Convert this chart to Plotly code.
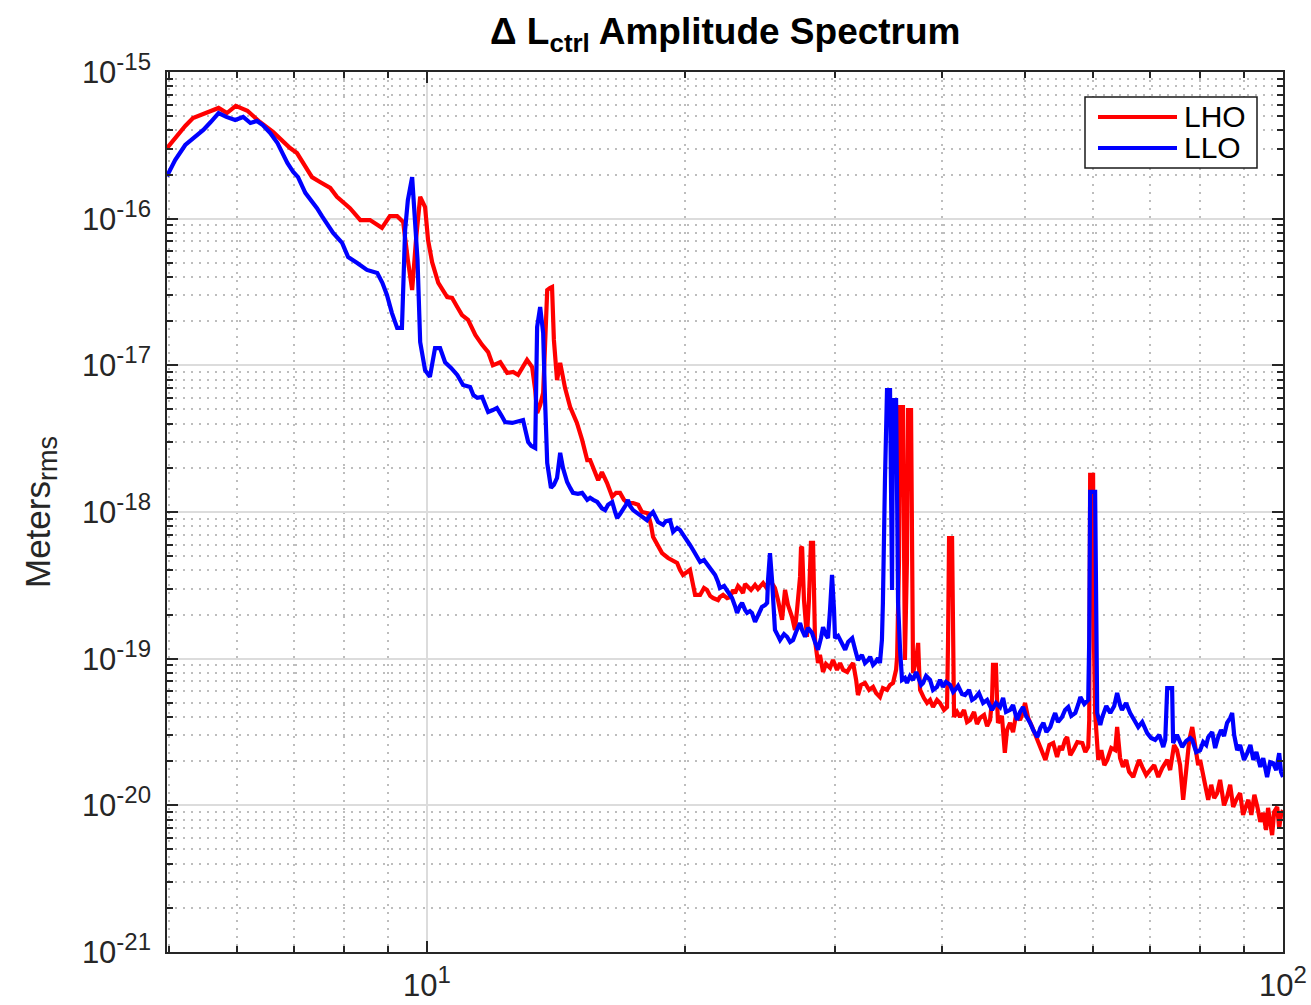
import numpy as np
import plotly.graph_objects as go

# ---------------- data ----------------
lho_freq = [4.97, 5.08, 5.22, 5.33, 5.50, 5.71, 5.84, 5.98, 6.17, 6.38, 6.61, 6.79, 6.92, 7.05, 7.21, 7.34, 7.50, 7.71, 7.85,
            8.13, 8.36, 8.58, 8.86, 9.05, 9.23, 9.38, 9.50, 9.61, 9.71, 9.82, 9.95, 10.03, 10.14, 10.31, 10.56, 10.70, 10.85,
            10.99, 11.17, 11.39, 11.60, 11.79, 11.94, 12.18, 12.41, 12.61, 12.78, 12.92, 13.09, 13.27, 13.38, 13.45, 13.56,
            13.67, 13.74, 13.82, 13.92, 14.00, 14.07, 14.19, 14.31, 14.50, 14.70, 14.97, 15.18, 15.39, 15.51, 15.68, 15.85,
            16.01, 16.23, 16.46, 16.63, 16.81, 16.99, 17.17, 17.41, 17.65, 17.83, 18.12, 18.27, 18.37, 18.57, 18.82, 19.13,
            19.34, 19.60, 19.75, 19.91, 20.13, 20.29, 20.46, 20.57, 20.85, 21.07, 21.24, 21.42, 21.59, 21.88, 21.99, 22.18,
            22.42, 22.60, 22.78, 22.90, 23.09, 23.21, 23.40, 23.53, 23.72, 23.91, 24.17, 24.36, 24.70, 24.89, 25.16, 25.37,
            25.50, 25.71, 25.99, 26.20, 26.41, 26.70, 26.91, 27.06, 27.28, 27.35, 27.43, 27.57, 27.79, 27.94, 28.09, 28.25,
            28.40, 28.63, 28.78, 29.02, 29.25, 29.57, 29.81, 30.13, 30.38, 30.63, 30.97, 31.22, 31.47, 31.72, 31.88, 32.14,
            32.49, 32.85, 33.20, 33.47, 33.82, 34.09, 34.47, 34.75, 35.03, 35.32, 35.42, 35.60, 35.70, 35.98, 36.08, 36.17,
            36.37, 36.47, 36.77, 36.87, 36.97, 37.28, 37.48, 37.58, 37.68, 38.07, 38.39, 38.70, 39.01, 39.43, 39.75, 40.18,
            40.51, 40.62, 40.73, 41.06, 41.18, 41.28, 41.62, 41.95, 42.40, 42.75, 43.10, 43.56, 43.91, 44.27, 44.75, 45.12,
            45.48, 45.72, 45.84, 46.20, 46.34, 46.46, 46.95, 47.32, 47.60, 47.99, 48.38, 48.77, 49.30, 49.70, 49.96, 50.38,
            50.94, 51.37, 51.79, 52.21, 52.78, 53.34, 53.90, 54.46, 54.89, 55.19, 55.65, 55.96, 56.43, 56.89, 57.51, 58.29,
            58.76, 59.22, 59.38, 59.53, 60.00, 60.16, 60.33, 60.84, 61.34, 61.84, 62.34, 63.01, 63.68, 64.01, 64.52, 65.02,
            65.56, 66.11, 66.84, 67.39, 67.93, 68.48, 69.21, 69.95, 70.72, 71.50, 72.27, 73.24, 73.82, 74.60, 75.19, 75.82,
            76.45, 77.08, 77.71, 78.34, 78.97, 79.60, 80.02, 80.68, 81.34, 81.78, 82.44, 83.10, 83.77, 84.43, 85.33, 86.04,
            86.75, 87.46, 88.16, 89.11, 89.82, 90.60, 91.10, 91.84, 92.59, 93.34, 94.08, 94.82, 95.54, 96.07, 96.60, 97.12,
            97.65, 98.45, 98.98, 99.47, 100.0]
lho_amp = [3.03e-16, 3.55e-16, 4.29e-16, 4.86e-16, 5.25e-16, 5.69e-16, 5.25e-16, 5.87e-16, 5.44e-16, 4.56e-16, 3.90e-16,
           3.33e-16, 3.03e-16, 2.80e-16, 2.25e-16, 1.92e-16, 1.78e-16, 1.62e-16, 1.41e-16, 1.18e-16, 9.78e-17, 9.78e-17,
           8.66e-17, 1.04e-16, 1.04e-16, 9.50e-17, 5.23e-17, 3.26e-17, 7.17e-17, 1.41e-16, 1.20e-16, 7.17e-17, 5.05e-17,
           3.65e-17, 2.92e-17, 2.88e-17, 2.50e-17, 2.20e-17, 2.04e-17, 1.61e-17, 1.38e-17, 1.23e-17, 1.00e-17, 1.05e-17,
           8.88e-18, 9.02e-18, 8.60e-18, 9.60e-18, 1.09e-17, 9.75e-18, 6.79e-18, 4.74e-18, 5.36e-18, 6.49e-18, 1.74e-17,
           3.26e-17, 3.37e-17, 3.42e-17, 1.49e-17, 7.94e-18, 1.04e-17, 7.00e-18, 5.20e-18, 4.05e-18, 3.10e-18, 2.26e-18,
           2.26e-18, 1.93e-18, 1.65e-18, 1.87e-18, 1.58e-18, 1.27e-18, 1.35e-18, 1.35e-18, 1.21e-18, 1.15e-18, 1.15e-18,
           1.12e-18, 1.00e-18, 9.80e-19, 8.17e-19, 6.77e-19, 5.96e-19, 5.25e-19, 4.86e-19, 4.71e-19, 4.49e-19, 4.03e-19,
           3.72e-19, 3.90e-19, 4.03e-19, 3.18e-19, 2.72e-19, 2.72e-19, 3.03e-19, 2.94e-19, 2.68e-19, 2.59e-19, 2.51e-19,
           2.63e-19, 2.72e-19, 2.59e-19, 2.63e-19, 2.94e-19, 2.80e-19, 3.13e-19, 3.03e-19, 2.80e-19, 3.23e-19, 3.08e-19,
           2.94e-19, 3.18e-19, 2.99e-19, 3.28e-19, 3.08e-19, 3.44e-19, 3.13e-19, 3.03e-19, 2.51e-19, 1.84e-19, 2.94e-19,
           2.32e-19, 1.92e-19, 1.57e-19, 2.15e-19, 3.61e-19, 5.69e-19, 5.78e-19, 2.51e-19, 1.41e-19, 2.51e-19, 6.15e-19,
           6.15e-19, 1.34e-19, 9.34e-20, 1.06e-19, 8.12e-20, 9.19e-20, 8.66e-20, 9.78e-20, 8.39e-20, 9.34e-20, 8.39e-20,
           8.12e-20, 8.78e-20, 9.34e-20, 7.17e-20, 5.65e-20, 6.62e-20, 6.83e-20, 6.12e-20, 6.42e-20, 5.83e-20, 5.47e-20,
           6.30e-20, 6.12e-20, 6.62e-20, 6.83e-20, 8.39e-20, 1.03e-19, 4.71e-19, 5.20e-18, 5.20e-18, 4.71e-19, 9.78e-20,
           4.71e-19, 4.96e-18, 4.96e-18, 5.51e-19, 7.99e-20, 9.78e-20, 1.28e-19, 8.39e-20, 6.12e-20, 5.39e-20, 4.99e-20,
           5.23e-20, 4.68e-20, 5.23e-20, 4.99e-20, 4.47e-20, 4.68e-20, 1.34e-19, 6.64e-19, 6.64e-19, 1.34e-19, 4.00e-20,
           4.33e-20, 4.00e-20, 4.47e-20, 3.70e-20, 3.82e-20, 4.33e-20, 3.59e-20, 3.94e-20, 4.13e-20, 3.47e-20, 3.82e-20,
           5.23e-20, 9.06e-20, 9.06e-20, 5.23e-20, 3.65e-20, 4.07e-20, 2.28e-20, 3.26e-20, 3.65e-20, 3.16e-20, 4.13e-20,
           3.82e-20, 4.33e-20, 4.99e-20, 3.94e-20, 3.42e-20, 3.02e-20, 2.66e-20, 2.31e-20, 2.04e-20, 2.58e-20, 2.66e-20,
           2.14e-20, 2.54e-20, 2.38e-20, 2.79e-20, 2.92e-20, 2.20e-20, 2.38e-20, 2.70e-20, 2.66e-20, 2.31e-20, 2.50e-20,
           3.82e-20, 1.79e-18, 1.79e-18, 1.15e-19, 4.26e-20, 2.04e-20, 2.38e-20, 1.88e-20, 2.04e-20, 2.46e-20, 2.38e-20,
           3.42e-20, 2.10e-20, 1.83e-20, 2.04e-20, 1.69e-20, 1.56e-20, 1.80e-20, 2.04e-20, 1.83e-20, 1.61e-20, 1.74e-20,
           1.88e-20, 1.56e-20, 1.80e-20, 2.04e-20, 1.74e-20, 2.58e-20, 2.38e-20, 1.88e-20, 1.09e-20, 1.74e-20, 2.79e-20,
           3.42e-20, 2.58e-20, 1.88e-20, 2.04e-20, 1.54e-20, 1.27e-20, 1.09e-20, 1.38e-20, 1.12e-20, 1.21e-20, 1.49e-20,
           1.00e-20, 1.14e-20, 1.38e-20, 9.75e-21, 1.09e-20, 1.21e-20, 8.60e-21, 1.00e-20, 1.09e-20, 8.60e-21, 1.18e-20,
           9.75e-21, 7.71e-21, 8.88e-21, 6.79e-21, 9.60e-21, 7.58e-21, 6.27e-21, 9.02e-21, 9.75e-21, 7.00e-21, 8.60e-21,
           9.27e-21]

llo_freq = [4.97, 5.08, 5.22, 5.36, 5.48, 5.59, 5.71, 5.83, 5.97, 6.10, 6.22, 6.33, 6.43, 6.56, 6.69, 6.78, 6.87, 6.98, 7.07,
            7.21, 7.32, 7.44, 7.54, 7.65, 7.77, 7.96, 8.09, 8.29, 8.51, 8.75, 8.87, 8.98, 9.10, 9.23, 9.35, 9.43, 9.50, 9.61,
            9.69, 9.75, 9.82, 9.95, 10.08, 10.22, 10.36, 10.50, 10.67, 10.85, 11.02, 11.23, 11.33, 11.45, 11.60, 11.70, 11.79,
            11.94, 12.07, 12.21, 12.34, 12.58, 12.75, 12.95, 13.13, 13.24, 13.38, 13.42, 13.45, 13.56, 13.67, 13.74, 13.82,
            13.96, 14.07, 14.19, 14.31, 14.42, 14.58, 14.70, 14.81, 15.01, 15.18, 15.39, 15.51, 15.64, 15.81, 16.01, 16.15,
            16.28, 16.46, 16.59, 16.68, 16.81, 16.95, 17.08, 17.17, 17.27, 17.41, 17.60, 17.83, 17.98, 18.07, 18.22, 18.37,
            18.52, 18.62, 18.87, 19.02, 19.23, 19.39, 19.60, 19.75, 19.96, 20.13, 20.29, 20.46, 20.68, 20.85, 21.07, 21.30,
            21.53, 21.71, 21.88, 21.99, 22.24, 22.42, 22.60, 22.72, 22.90, 23.03, 23.21, 23.34, 23.53, 23.66, 23.84, 23.97,
            24.17, 24.36, 24.62, 24.83, 24.97, 25.03, 25.16, 25.30, 25.37, 25.50, 25.71, 25.85, 26.13, 26.34, 26.56, 26.77,
            26.99, 27.28, 27.43, 27.65, 27.87, 28.17, 28.40, 28.63, 28.86, 29.02, 29.25, 29.41, 29.57, 29.73, 29.89, 29.97,
            30.22, 30.38, 30.63, 30.80, 31.05, 31.39, 31.64, 31.88, 32.22, 32.49, 32.76, 32.94, 33.20, 33.38, 33.64, 33.82,
            34.00, 34.09, 34.28, 34.47, 34.75, 34.84, 34.94, 35.03, 35.32, 35.42, 35.51, 35.70, 35.89, 36.17, 36.37, 36.67,
            36.97, 37.28, 37.48, 37.78, 37.98, 38.29, 38.70, 39.01, 39.43, 39.75, 40.06, 40.40, 40.84, 41.18, 41.40, 41.73,
            42.17, 42.52, 42.98, 43.33, 43.68, 44.14, 44.63, 45.12, 45.72, 46.20, 46.72, 47.10, 47.47, 47.99, 48.38, 48.90,
            49.30, 49.70, 50.10, 50.66, 51.08, 51.65, 52.07, 52.50, 52.92, 53.48, 53.90, 54.18, 54.60, 55.19, 55.65, 56.12,
            56.58, 57.20, 57.67, 57.98, 58.60, 59.22, 59.38, 59.53, 60.33, 60.50, 60.67, 61.17, 61.50, 62.17, 62.84, 63.51,
            64.01, 64.52, 64.85, 65.56, 66.29, 67.02, 67.75, 68.48, 69.40, 70.14, 70.91, 71.69, 72.46, 72.85, 73.04, 73.24,
            74.21, 74.41, 75.19, 76.24, 77.08, 77.92, 78.34, 79.18, 80.02, 80.68, 81.34, 81.78, 82.66, 83.32, 83.99, 84.65,
            85.33, 86.04, 86.75, 87.22, 87.69, 88.40, 89.11, 90.05, 90.85, 91.60, 92.34, 93.09, 94.08, 94.82, 95.81, 96.60,
            97.39, 98.19, 98.98, 99.47, 100.0]
llo_amp = [1.95e-16, 2.51e-16, 3.18e-16, 3.61e-16, 4.03e-16, 4.56e-16, 5.25e-16, 4.94e-16, 4.71e-16, 4.94e-16, 4.49e-16,
           4.64e-16, 4.35e-16, 3.84e-16, 3.28e-16, 2.80e-16, 2.40e-16, 2.08e-16, 1.92e-16, 1.50e-16, 1.34e-16, 1.18e-16,
           1.04e-16, 9.06e-17, 7.99e-17, 6.83e-17, 5.47e-17, 4.99e-17, 4.47e-17, 4.26e-17, 3.65e-17, 3.02e-17, 2.28e-17,
           1.80e-17, 1.80e-17, 8.39e-17, 1.34e-16, 1.92e-16, 8.78e-17, 5.23e-17, 1.44e-17, 9.27e-18, 8.34e-18, 1.31e-17,
           1.31e-17, 1.05e-17, 9.60e-18, 8.60e-18, 7.35e-18, 7.13e-18, 6.27e-18, 6.00e-18, 6.09e-18, 5.36e-18, 4.81e-18,
           4.96e-18, 5.12e-18, 4.58e-18, 4.11e-18, 4.05e-18, 4.17e-18, 4.24e-18, 3.00e-18, 2.82e-18, 2.73e-18, 5.80e-18,
           1.83e-17, 2.50e-17, 1.66e-17, 5.80e-18, 2.16e-18, 1.46e-18, 1.53e-18, 1.71e-18, 2.53e-18, 1.99e-18, 1.60e-18,
           1.46e-18, 1.35e-18, 1.33e-18, 1.35e-18, 1.21e-18, 1.25e-18, 1.21e-18, 1.17e-18, 1.06e-18, 1.03e-18, 1.12e-18,
           1.17e-18, 1.00e-18, 9.10e-19, 9.68e-19, 1.03e-18, 1.12e-18, 1.21e-18, 1.10e-18, 1.03e-18, 9.80e-19, 9.20e-19,
           8.95e-19, 8.80e-19, 9.53e-19, 1.00e-18, 9.10e-19, 8.54e-19, 8.17e-19, 8.68e-19, 8.80e-19, 7.33e-19, 7.79e-19,
           7.55e-19, 6.87e-19, 6.45e-19, 5.96e-19, 5.51e-19, 5.02e-19, 4.56e-19, 4.71e-19, 4.35e-19, 4.03e-19, 3.72e-19,
           3.33e-19, 3.03e-19, 3.13e-19, 2.94e-19, 2.76e-19, 2.59e-19, 2.29e-19, 2.05e-19, 2.29e-19, 2.40e-19, 2.15e-19,
           2.05e-19, 2.11e-19, 2.05e-19, 1.78e-19, 1.99e-19, 2.25e-19, 2.32e-19, 2.40e-19, 3.44e-19, 5.25e-19, 3.44e-19,
           2.51e-19, 1.57e-19, 1.43e-19, 1.34e-19, 1.47e-19, 1.41e-19, 1.30e-19, 1.34e-19, 1.52e-19, 1.75e-19, 1.57e-19,
           1.41e-19, 1.62e-19, 1.50e-19, 1.30e-19, 1.15e-19, 1.38e-19, 1.64e-19, 1.45e-19, 1.38e-19, 2.15e-19, 3.72e-19,
           2.15e-19, 1.38e-19, 1.43e-19, 1.34e-19, 1.24e-19, 1.15e-19, 1.30e-19, 1.38e-19, 1.15e-19, 9.78e-20, 1.06e-19,
           9.34e-20, 9.78e-20, 1.03e-19, 9.06e-20, 9.34e-20, 1.01e-19, 9.34e-20, 1.34e-19, 2.40e-19, 1.65e-18, 6.79e-18,
           6.79e-18, 1.21e-18, 2.94e-19, 5.80e-18, 5.80e-18, 1.21e-18, 2.40e-19, 1.15e-19, 7.17e-20, 7.39e-20, 6.83e-20,
           7.62e-20, 7.17e-20, 8.12e-20, 7.39e-20, 6.62e-20, 6.83e-20, 7.62e-20, 7.17e-20, 6.12e-20, 6.42e-20, 7.17e-20,
           6.42e-20, 6.94e-20, 6.62e-20, 5.93e-20, 6.12e-20, 6.52e-20, 5.74e-20, 5.65e-20, 6.12e-20, 5.23e-20, 5.39e-20,
           5.83e-20, 4.99e-20, 5.23e-20, 4.47e-20, 4.99e-20, 4.68e-20, 5.39e-20, 4.33e-20, 4.47e-20, 4.83e-20, 3.82e-20,
           4.33e-20, 4.68e-20, 4.07e-20, 3.65e-20, 3.26e-20, 2.92e-20, 3.37e-20, 3.65e-20, 3.16e-20, 3.42e-20, 3.94e-20,
           4.26e-20, 3.70e-20, 4.00e-20, 4.47e-20, 4.68e-20, 4.07e-20, 4.26e-20, 4.91e-20, 5.47e-20, 4.91e-20, 5.23e-20,
           1.34e-19, 1.37e-18, 1.37e-18, 1.34e-19, 4.26e-20, 3.53e-20, 4.00e-20, 4.75e-20, 4.26e-20, 4.75e-20, 5.83e-20,
           4.83e-20, 4.47e-20, 4.99e-20, 4.26e-20, 3.82e-20, 3.42e-20, 3.70e-20, 3.11e-20, 2.88e-20, 2.79e-20, 3.02e-20,
           2.50e-20, 2.79e-20, 5.23e-20, 6.30e-20, 6.30e-20, 2.66e-20, 3.02e-20, 2.50e-20, 2.75e-20, 2.88e-20, 2.79e-20,
           2.31e-20, 2.38e-20, 2.70e-20, 2.58e-20, 2.92e-20, 3.16e-20, 2.46e-20, 2.92e-20, 3.26e-20, 2.97e-20, 3.65e-20,
           3.94e-20, 4.26e-20, 3.02e-20, 2.38e-20, 2.58e-20, 2.04e-20, 2.28e-20, 2.58e-20, 2.04e-20, 2.31e-20, 1.83e-20,
           2.10e-20, 1.56e-20, 1.97e-20, 1.94e-20, 1.74e-20, 2.27e-20, 1.69e-20, 1.56e-20]

series_names = ["LHO", "LLO"]
series_colors = ["#ff0000", "#0000ff"]

x_major = [10, 100]
x_major_exp = ["1", "2"]
x_minor = [5, 6, 7, 8, 9, 20, 30, 40, 50, 60, 70, 80, 90]
y_major = [1e-21, 1e-20, 1e-19, 1e-18, 1e-17, 1e-16, 1e-15]
y_major_exp = ["-21", "-20", "-19", "-18", "-17", "-16", "-15"]
y_minor = [m * d for d in [1e-21, 1e-20, 1e-19, 1e-18, 1e-17, 1e-16] for m in range(2, 10)]

title_text = "<b>Δ L<sub>ctrl</sub> Amplitude Spectrum</b>"
ylabel_text = "Meters<sub><span style='font-size:27px'>rms</span></sub>"

# ---------------- figure ----------------
FONT = "Liberation Sans, Arial, Helvetica, sans-serif"
AX = "#262626"


def power_label(exp):
    return "10<sup><span style='font-size:24px'>%s</span></sup>" % exp


fig = go.Figure()
for f, a, c, n in [(lho_freq, lho_amp, series_colors[0], series_names[0]),
                   (llo_freq, llo_amp, series_colors[1], series_names[1])]:
    fig.add_trace(go.Scatter(x=f, y=a, mode="lines", name=n,
                             line=dict(color=c, width=4.2), showlegend=False))

W, H = 1311, 1005
L, R, T, B = 167, 1283, 72, 952

axis_common = dict(
    type="log", showline=True, linecolor=AX, linewidth=1.5, mirror="ticks",
    ticks="inside", ticklen=11, tickwidth=1.5, tickcolor=AX, automargin=False,
    showgrid=True, gridcolor="#dcdcdc", gridwidth=1.5, zeroline=False,
    tickfont=dict(family=FONT, size=31, color=AX),
)

fig.update_xaxes(
    **axis_common, range=[np.log10(4.97), 2], tickmode="array",
    tickvals=x_major, ticktext=[power_label(e) for e in x_major_exp], ticklabelstandoff=5,
    minor=dict(tickmode="array", tickvals=x_minor, ticks="inside", ticklen=6,
               tickwidth=1.5, tickcolor=AX, showgrid=True, gridcolor="#bdbdbd",
               griddash="1.5px,6.5px", gridwidth=1.5),
)
fig.update_yaxes(
    **axis_common, range=[-21, -15], tickmode="array",
    tickvals=y_major, ticktext=[power_label(e) for e in y_major_exp], ticklabelstandoff=8,
    minor=dict(tickmode="array", tickvals=y_minor, ticks="inside", ticklen=6,
               tickwidth=1.5, tickcolor=AX, showgrid=True, gridcolor="#bdbdbd",
               griddash="1.5px,6.5px", gridwidth=1.5),
)


def px(x):
    return (x - L) / (R - L)


def py(y):
    return (B - y) / (B - T)


shapes = [
    dict(type="rect", xref="paper", yref="paper", x0=px(1085), x1=px(1257), y0=py(168), y1=py(97),
         fillcolor="white", line=dict(color="#1a1a1a", width=1.5), layer="above"),
    dict(type="line", xref="paper", yref="paper", x0=px(1098), x1=px(1177), y0=py(117), y1=py(117),
         line=dict(color=series_colors[0], width=4), layer="above"),
    dict(type="line", xref="paper", yref="paper", x0=px(1098), x1=px(1177), y0=py(148), y1=py(148),
         line=dict(color=series_colors[1], width=4), layer="above"),
]
annotations = [
    dict(xref="paper", yref="paper", x=px(1182), y=py(116), text=series_names[0], showarrow=False,
         xanchor="left", yanchor="middle", font=dict(family=FONT, size=30, color="black")),
    dict(xref="paper", yref="paper", x=px(1182), y=py(148), text=series_names[1], showarrow=False,
         xanchor="left", yanchor="middle", font=dict(family=FONT, size=30, color="black")),
    dict(xref="paper", yref="paper", x=px(40), y=py(512), text=ylabel_text, showarrow=False,
         textangle=-90, xanchor="center", yanchor="middle", font=dict(family=FONT, size=35, color=AX)),
    dict(xref="paper", yref="paper", x=0.5, y=py(34), text=title_text, showarrow=False,
         xanchor="center", yanchor="middle", font=dict(family=FONT, size=37, color="black")),
]

fig.update_layout(
    width=W, height=H,
    margin=dict(l=L, r=W - R, t=T, b=H - B, autoexpand=False),
    paper_bgcolor="white", plot_bgcolor="white",
    shapes=shapes, annotations=annotations, showlegend=False,
    font=dict(family=FONT, color=AX),
)

fig.write_html("out.html")
